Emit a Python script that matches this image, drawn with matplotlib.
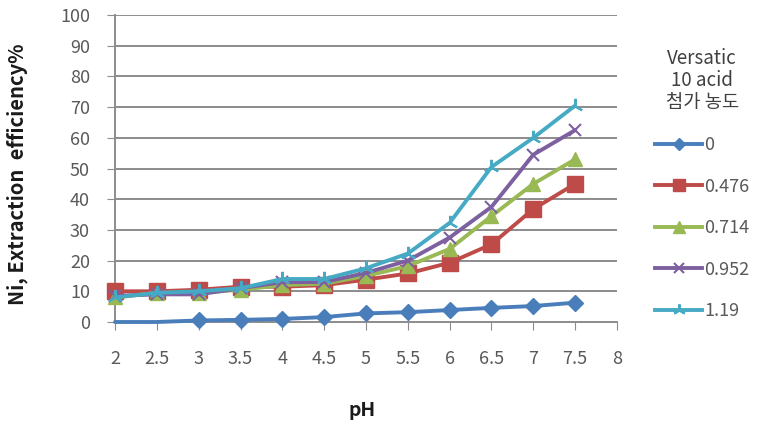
import matplotlib
matplotlib.use("Agg")
import matplotlib.pyplot as plt
from matplotlib.lines import Line2D

plt.rcParams['font.family'] = ['Noto Sans CJK KR', 'DejaVu Sans']

# pH values and extraction efficiency (%) per Versatic 10 acid concentration
ph = [2, 2.5, 3, 3.5, 4, 4.5, 5, 5.5, 6, 6.5, 7, 7.5]
conc_labels = ['0', '0.476', '0.714', '0.952', '1.19']
eff_0 = [0, 0, 0.5, 0.7, 1.0, 1.6, 2.8, 3.2, 3.9, 4.6, 5.2, 6.3]
eff_0476 = [10, 10, 10.5, 11.5, 11.5, 12, 13.8, 15.8, 19.3, 25.3, 36.8, 45]
eff_0714 = [8, 9.5, 9.5, 10.5, 12, 12.5, 15, 18.2, 23.8, 34.5, 45, 53]
eff_0952 = [8.5, 9, 9, 11, 13, 13, 16, 20, 27.5, 37.5, 54.5, 62.5]
eff_119 = [8, 9.5, 10, 11, 14, 14, 17.5, 22.3, 32.3, 50.5, 60, 70.5]

x_ticks = [2, 2.5, 3, 3.5, 4, 4.5, 5, 5.5, 6, 6.5, 7, 7.5, 8]
x_tick_labels = ['2', '2.5', '3', '3.5', '4', '4.5', '5', '5.5', '6', '6.5', '7', '7.5', '8']
y_ticks = list(range(0, 101, 10))

series = [eff_0, eff_0476, eff_0714, eff_0952, eff_119]
colors = ['#4A7EBB', '#BE4B48', '#98B954', '#7D60A0', '#46AAC5']
markers = ['D', 's', '^', 'x', (3, 2, 0)]
msizes = [8, 11, 10, 9, 11]
mews = [1, 1, 1, 1.5, 1.5]

fig = plt.figure(figsize=(7.61, 4.37), dpi=100)
ax = fig.add_axes([115 / 761, 1 - 322 / 437, (617 - 115) / 761, (322 - 15) / 437])

for ys in y_ticks[1:]:
    ax.axhline(ys, color='#8C8C8C', lw=1.4, zorder=0)

handles = []
for i, vals in enumerate(series):
    mk_every = [j for j in range(len(ph)) if not (i == 0 and j < 2)]
    ax.plot(ph, vals, color=colors[i], lw=2.8, marker=markers[i], ms=msizes[i],
            mew=mews[i], mec=colors[i], markevery=mk_every, zorder=3 + i,
            solid_capstyle='round', clip_on=False)
    handles.append(Line2D([], [], color=colors[i], lw=2.8, marker=markers[i],
                          ms=msizes[i] * 0.8, mew=mews[i], mec=colors[i]))

ax.set_xlim(2, 8)
ax.set_ylim(0, 100)
ax.set_xticks(x_ticks)
ax.set_xticklabels(x_tick_labels)
ax.set_yticks(y_ticks)
for s in ['top', 'right']:
    ax.spines[s].set_visible(False)
for s in ['left', 'bottom']:
    ax.spines[s].set_color('#8C8C8C')
    ax.spines[s].set_linewidth(1.4)
ax.tick_params(axis='x', direction='out', length=6, color='#8C8C8C', pad=14,
               labelsize=13, labelcolor='#595959')
ax.tick_params(axis='y', direction='out', length=6, color='#8C8C8C', pad=12,
               labelsize=13, labelcolor='#595959')

fig.text(17 / 761, 1 - 174 / 437, 'Ni, Extraction  efficiency%', rotation=90,
         ha='center', va='center', fontsize=14.5, fontweight='bold', color='#1a1a1a')
fig.text(362 / 761, 1 - 410 / 437, 'pH', ha='center', va='center',
         fontsize=14, fontweight='bold', color='#1a1a1a')

leg = fig.legend(handles, conc_labels, loc='upper left',
                 bbox_to_anchor=(648 / 761, 1 - 41 / 437), frameon=False,
                 title='Versatic\n10 acid\n첨가 농도', fontsize=13,
                 title_fontsize=13.5, handlelength=2.6, handletextpad=0.1,
                 labelspacing=1.3, borderaxespad=0)
for t in leg.get_texts():
    t.set_color('#595959')
leg.get_title().set_color('#404040')
leg.get_title().set_multialignment('center')
leg.get_title().set_linespacing(1.05)

fig.savefig('out.png', dpi=100)
